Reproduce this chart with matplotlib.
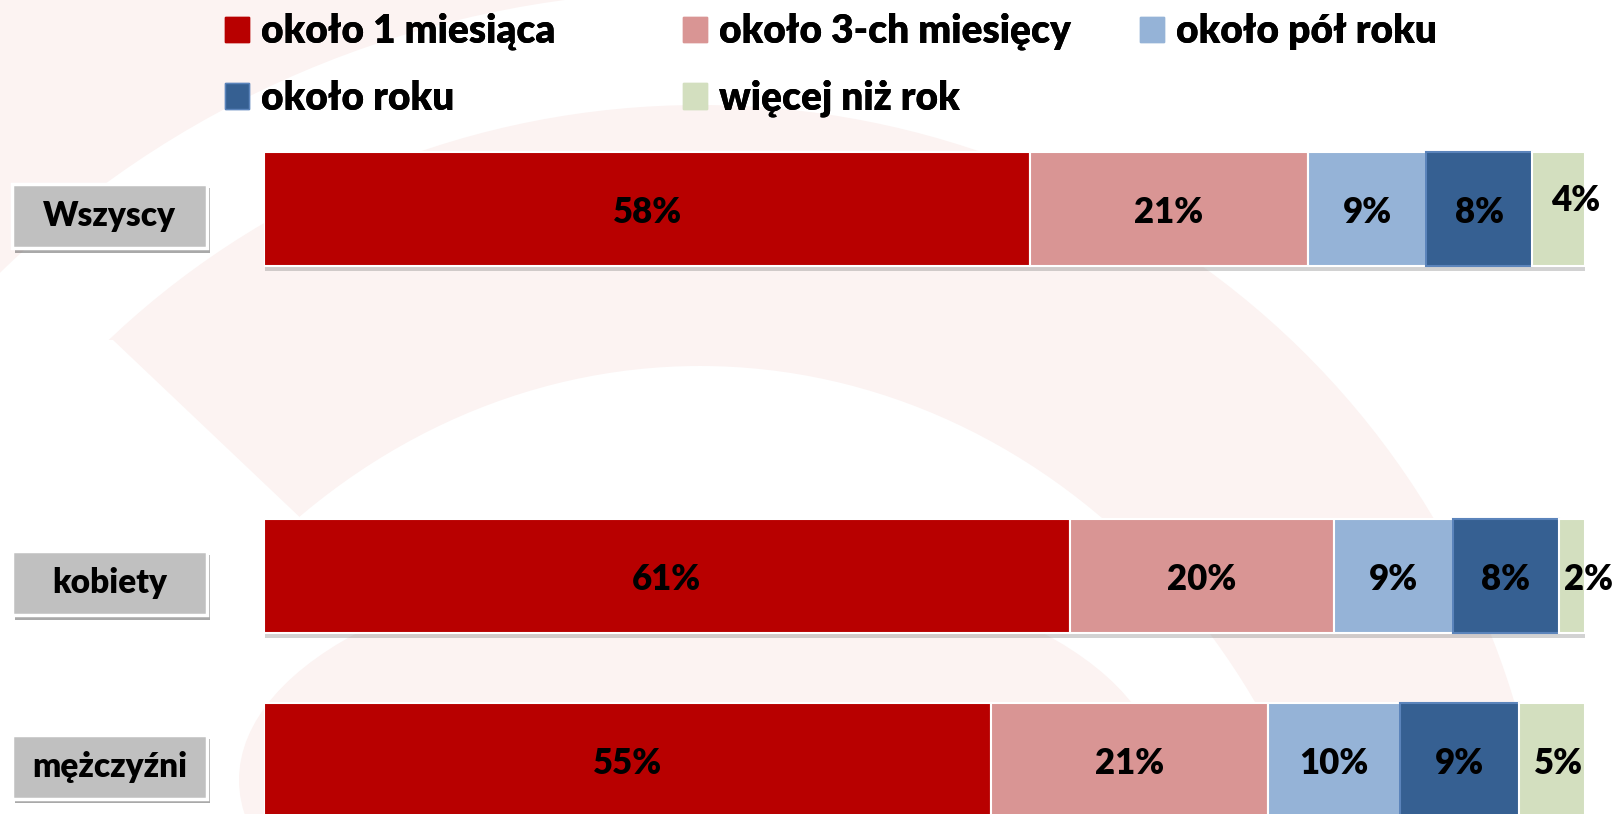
import matplotlib
matplotlib.use("Agg")
import matplotlib.pyplot as plt
import matplotlib.patches as mpatches
import matplotlib.patheffects as pe
import matplotlib.transforms as mtransforms

plt.rcParams['font.family'] = ['Lato', 'DejaVu Sans']

# data
groups = ['Wszyscy', 'kobiety', 'mężczyźni']
series_names = ['około 1 miesiąca', 'około 3-ch miesięcy', 'około pół roku',
                'około roku', 'więcej niż rok']
one_month = [58, 61, 55]
three_months = [21, 20, 21]
half_year = [9, 9, 10]
one_year = [8, 8, 9]
over_year = [4, 2, 5]

series = [one_month, three_months, half_year, one_year, over_year]
colors = ['#b80000', '#d99594', '#95b3d7', '#366092', '#d3dfbf']
edges = ['white', 'white', 'white', '#5b84bb', 'white']

W, H = 1615, 814
fig = plt.figure(figsize=(W / 100, H / 100), dpi=100)

# faint decorative arcs in the background (pixel coordinates)
bg = fig.add_axes([0, 0, 1, 1], zorder=0)
bg.set_xlim(0, W)
bg.set_ylim(H, 0)
bg.axis('off')
pink = '#fcf3f2'
bg.add_patch(mpatches.Polygon([(0, 0), (650, 0), (0, 400)], color=pink, lw=0))
bg.add_patch(mpatches.Ellipse((700, 937), 2 * 983, 2 * 946, color='white', lw=0))
bg.add_patch(mpatches.Ellipse((700, 937), 2 * 849, 2 * 832, color=pink, lw=0))
bg.add_patch(mpatches.Polygon([(-10, 340), (113, 340), (640, 840), (-10, 840)],
                              color='white', lw=0))
bg.add_patch(mpatches.Ellipse((700, 1111), 2 * 664, 2 * 745, color='white', lw=0))
bg.add_patch(mpatches.Ellipse((700, 780), 2 * 461, 2 * 220, color=pink, lw=0))

# main chart
ax = fig.add_axes([264 / W, 0, 1321 / W, 1], zorder=1)
ax.patch.set_alpha(0)
slots = [0, 2, 3]  # empty row between "Wszyscy" and the split by sex
ax.set_xlim(0, 100)
ax.set_ylim((H - 209) / 183.5, -209 / 183.5)
ax.axis('off')

bar_shadow = [pe.SimplePatchShadow(offset=(1, -4), shadow_rgbFace='#7f7f7f', alpha=0.35),
              pe.Normal()]
# small nudges for the tiny last segment labels (points)
last_nudge = [(12, 9), (12, 0), (5, 0)]

left = [0, 0, 0]
for k, vals in enumerate(series):
    bars = ax.barh(slots, vals, left=left, height=0.62, color=colors[k],
                   edgecolor=edges[k], linewidth=1.5)
    for b in bars:
        b.set_path_effects(bar_shadow)
    for i, v in enumerate(vals):
        dx, dy = last_nudge[i] if k == len(series) - 1 else (0, 0)
        ax.annotate(f'{v}%', (left[i] + v / 2, slots[i] + 0.02), xytext=(dx, dy),
                    textcoords='offset points', ha='center', va='center',
                    fontsize=25, fontweight='heavy', color='black',
                    annotation_clip=False)
    left = [l + v for l, v in zip(left, vals)]

# category boxes on the left
trans = mtransforms.blended_transform_factory(ax.transAxes, ax.transData)
box_x0, box_w, box_h = -0.1908, 0.1476, 0.349
box_shadow = [pe.SimplePatchShadow(offset=(2, -3), shadow_rgbFace='#555555', alpha=0.5),
              pe.Normal()]
for name, y in zip(groups, slots):
    yc = y + 0.04
    rect = mpatches.Rectangle((box_x0, yc - box_h / 2), box_w, box_h, transform=trans,
                              facecolor='#c0c0c0', edgecolor='white', linewidth=2.5,
                              clip_on=False)
    rect.set_path_effects(box_shadow)
    ax.add_patch(rect)
    ax.text(box_x0 + box_w / 2, yc, name, transform=trans, ha='center', va='center',
            fontsize=24, fontweight='heavy', color='black')

# legend: three columns, filled row by row
handles = [mpatches.Patch(facecolor=c, edgecolor=e if e != 'white' else c)
           for c, e in zip(colors, edges)]
columns = [[0, 3], [1, 4], [2]]
col_x = [225, 683, 1140]
for idx, x in zip(columns, col_x):
    leg = fig.legend([handles[j] for j in idx], [series_names[j] for j in idx],
                     loc='upper left', bbox_to_anchor=(x / W, 1 - 13 / H),
                     frameon=False, borderpad=0, borderaxespad=0,
                     handlelength=0.62, handleheight=0.62, handletextpad=0.3,
                     labelspacing=0.75, prop={'weight': 'heavy', 'size': 28})
    fig.add_artist(leg)

fig.savefig('out.png', dpi=100)
